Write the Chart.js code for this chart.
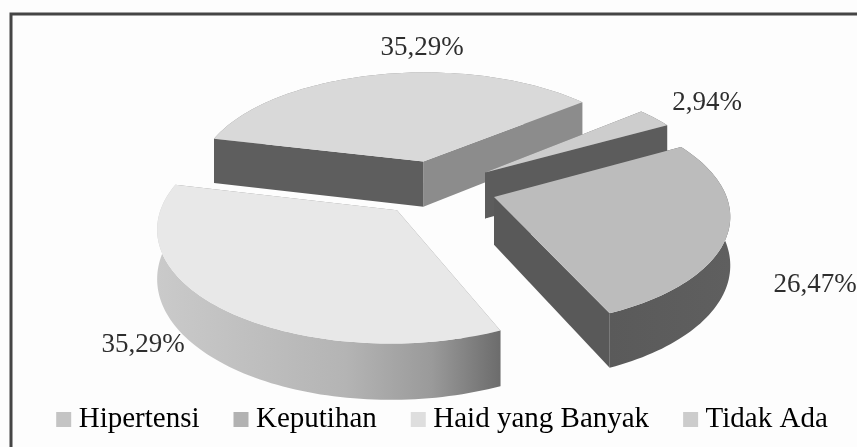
<!DOCTYPE html>
<html>
<head>
<meta charset="utf-8">
<style>
  html, body { margin: 0; padding: 0; background: #fff; }
  canvas { display: block; }
</style>
<script src="https://cdn.jsdelivr.net/npm/chart.js@4"></script>
</head>
<body>
<canvas id="chart" width="857" height="447"></canvas>
<script>
// data
const categories = ['Hipertensi', 'Keputihan', 'Haid yang Banyak', 'Tidak Ada'];
const percentValues = [26.47, 35.29, 35.29, 2.94];

// colours of the scan
const topColors = ['#bcbcbc', '#e8e8e8', '#d9d9d9', '#cdcdcd'];
const legendColors = ['#c4c4c4', '#b2b2b2', '#dedede', '#cccccc'];
const startWallColors = ['#5a5a5a', '#8a8a8a', '#5e5e5e', '#6a6a6a'];
const endWallColors = ['#595959', '#8a8a8a', '#8c8c8c', '#5c5c5c'];
const outerWallStops = [
    [[0, '#5a5a5a'], [1, '#5f5f5f']],
    [[0, '#cacaca'], [0.55, '#b4b4b4'], [0.8, '#9a9a9a'], [1, '#6c6c6c']],
    [[0, '#8a8a8a'], [1, '#8a8a8a']],
    [[0, '#6a6a6a'], [1, '#6a6a6a']]
];

// where the value labels sit, same order as categories
const labelSpots = [[815, 285], [143, 345], [422, 48], [707, 103]];
const textColor = '#2e2e2e';

// pie plane seen at an angle
const tilt = 0.47;
const perspective = 0.0006;
const wallDepth = 47;
const pieShiftX = 8;
const drawOrder = [2, 3, 0, 1];

function project(arc, angle, radius, drop) {
    const mid = (arc.startAngle + arc.endAngle) / 2;
    const off = arc.options.offset;
    const px = off * Math.cos(mid) + radius * Math.cos(angle);
    const py = off * Math.sin(mid) + radius * Math.sin(angle);
    const p = 1 / (1 - perspective * py);
    return {
        x: arc.x + pieShiftX + px * p,
        y: arc.y + tilt * py * p + (drop ? wallDepth * p : 0)
    };
}

function rimPoints(arc, drop) {
    const pts = [];
    const steps = Math.max(4, Math.ceil((arc.endAngle - arc.startAngle) * 40));
    for (let i = 0; i <= steps; i++) {
        const a = arc.startAngle + (arc.endAngle - arc.startAngle) * i / steps;
        pts.push(project(arc, a, arc.outerRadius, drop));
    }
    return pts;
}

function fillPoly(ctx, pts, fill) {
    ctx.beginPath();
    pts.forEach((pt, i) => i ? ctx.lineTo(pt.x, pt.y) : ctx.moveTo(pt.x, pt.y));
    ctx.closePath();
    ctx.fillStyle = fill;
    ctx.fill();
}

function meanY(pts) {
    return pts.reduce((sum, pt) => sum + pt.y, 0) / pts.length;
}

function drawSlice(ctx, arc, i) {
    const apex = project(arc, 0, 0, false);
    const apexLow = project(arc, 0, 0, true);
    const top = rimPoints(arc, false);
    const low = rimPoints(arc, true);
    const last = top.length - 1;

    // outer wall, shaded from left to right
    const xs = top.map(pt => pt.x);
    const grad = ctx.createLinearGradient(Math.min(...xs), 0, Math.max(...xs), 0);
    outerWallStops[i].forEach(s => grad.addColorStop(s[0], s[1]));

    // back walls first, the top face covers what is left of them
    const walls = [
        { pts: [apex, top[0], low[0], apexLow], fill: startWallColors[i], depth: meanY([apex, top[0]]) },
        { pts: [apex, top[last], low[last], apexLow], fill: endWallColors[i], depth: meanY([apex, top[last]]) },
        { pts: top.concat(low.slice().reverse()), fill: grad, depth: meanY(top) }
    ];
    walls.sort((a, b) => a.depth - b.depth);
    walls.forEach(w => fillPoly(ctx, w.pts, w.fill));

    fillPoly(ctx, [apex].concat(top), topColors[i]);
}

const pie3d = {
    id: 'pie3d',
    afterLayout(chart) {
        // move the legend to where the reference has it
        chart.legend.left += 17;
        chart.legend.right += 17;
        chart.legend.top -= 3;
        chart.legend.bottom -= 3;
    },
    beforeDraw(chart) {
        const ctx = chart.ctx;
        ctx.save();
        ctx.fillStyle = '#fdfdfd';
        ctx.fillRect(0, 0, chart.width, chart.height);
        ctx.strokeStyle = '#454545';
        ctx.lineWidth = 3;
        ctx.beginPath();
        ctx.moveTo(11, chart.height);
        ctx.lineTo(11, 14);
        ctx.lineTo(chart.width, 14);
        ctx.stroke();
        ctx.restore();
    },
    beforeDatasetsDraw(chart) {
        const ctx = chart.ctx;
        const arcs = chart.getDatasetMeta(0).data;
        ctx.save();
        drawOrder.forEach(i => drawSlice(ctx, arcs[i], i));
        ctx.restore();
        return false;
    },
    afterDraw(chart) {
        const ctx = chart.ctx;
        ctx.save();
        ctx.font = '27px "Liberation Serif"';
        ctx.fillStyle = textColor;
        ctx.textAlign = 'center';
        ctx.textBaseline = 'middle';
        percentValues.forEach((v, i) => {
            const text = v.toFixed(2).replace('.', ',') + '%';
            ctx.fillText(text, labelSpots[i][0], labelSpots[i][1]);
        });
        ctx.restore();
    }
};

new Chart(document.getElementById('chart'), {
    type: 'pie',
    data: {
        labels: categories,
        datasets: [{
            data: percentValues,
            backgroundColor: topColors,
            borderWidth: 0,
            offset: 60
        }]
    },
    options: {
        responsive: false,
        animation: false,
        rotation: 61,
        radius: 230,
        layout: { padding: { top: 9 } },
        plugins: {
            tooltip: { enabled: false },
            legend: {
                position: 'bottom',
                labels: {
                    color: textColor,
                    font: { family: '"Liberation Serif"', size: 29 },
                    usePointStyle: true,
                    pointStyle: 'rect',
                    boxWidth: 1,
                    boxHeight: 15,
                    padding: 41,
                    generateLabels() {
                        return categories.map((name, i) => ({
                            text: name,
                            fillStyle: legendColors[i],
                            strokeStyle: legendColors[i],
                            lineWidth: 0,
                            pointStyle: 'rect',
                            index: i
                        }));
                    }
                }
            }
        }
    },
    plugins: [pie3d]
});
</script>
</body>
</html>
